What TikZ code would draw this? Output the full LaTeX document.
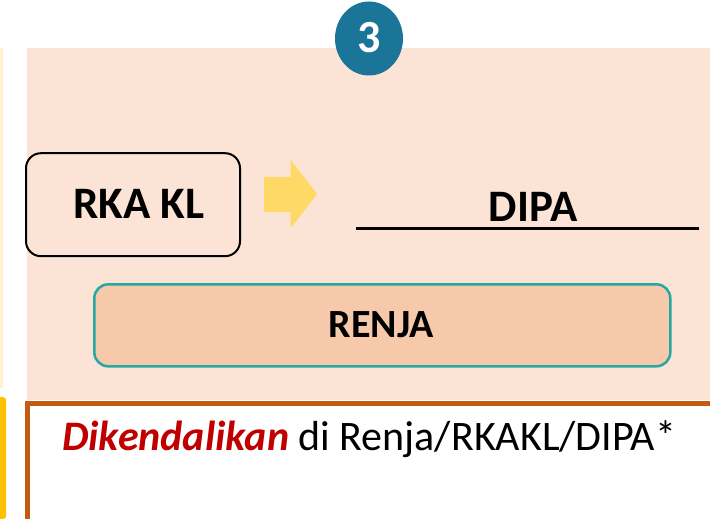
\documentclass[tikz,border=0pt]{standalone}
\usepackage{fontspec}
\usetikzlibrary{shapes.geometric}
\setmainfont{Carlito}
\definecolor{peach}{HTML}{FBE4D6}
\definecolor{renjafill}{HTML}{F6C9AB}
\definecolor{teal}{RGB}{38,168,162}
\definecolor{circblue}{RGB}{26,117,152}
\definecolor{arrowyel}{HTML}{FFD966}
\definecolor{paleyel}{HTML}{FFF2CC}
\definecolor{gold}{HTML}{FFC000}
\definecolor{rust}{HTML}{C55A11}
\definecolor{darkred}{HTML}{C00000}
\tikzset{
  rkabox/.style={draw=black, line width=2pt, rounded corners=15pt, fill=peach, minimum width=214pt, minimum height=103pt, inner sep=0pt},
  renjabox/.style={draw=teal, line width=2.5pt, rounded corners=14pt, fill=renjafill, minimum width=576pt, minimum height=82pt, inner sep=0pt},
  bigtxt/.style={font=\fontsize{45}{54}\selectfont\bfseries, inner sep=0pt},
}
\begin{document}
\begin{tikzpicture}[x=1pt,y=-1pt]
\useasboundingbox (0,0) rectangle (710,519);
% side strips
\fill[paleyel] (0,48) rectangle (3,388);
\fill[gold,rounded corners=3pt] (-5,519) -- (-5,397) -- (6,397) -- (6,519) -- cycle;
% peach panel
\fill[peach] (27,48) rectangle (710,400);
% number circle
\node[ellipse, fill=circblue, minimum width=68pt, minimum height=74pt, inner sep=0pt] (circ) at (369,38.5) {};
\node[anchor=base, inner sep=0pt, text=white, font=\fontsize{46}{54}\selectfont\bfseries] (num) at (369,52.3) {3};
% RKA KL box
\node[rkabox] (rka) at (133,204.7) {};
\node[bigtxt, anchor=base] (rkatxt) at (139,218.3) {RKA KL};
% arrow
\fill[arrowyel] (264,177) -- (290.7,177) -- (290.7,160) -- (317.3,194) -- (290.7,228) -- (290.7,212) -- (264,212) -- cycle;
% DIPA
\node[bigtxt, anchor=base] (dipa) at (533,221.7) {DIPA};
\coordinate (ulA) at (356,228.7);
\coordinate (ulB) at (699,228.7);
\draw[line width=3pt] (ulA) -- (ulB);
% RENJA box
\node[renjabox] (renja) at (382.3,325.3) {};
\node[anchor=base, inner sep=0pt, font=\fontsize{40}{48}\selectfont\bfseries] (renjatxt) at (381.4,337.3) {RENJA};
% bottom box
\draw[rust, line width=5.5pt, fill=white] (27.5,403.5) rectangle (730,540);
\node[anchor=base west, inner sep=0pt, font=\fontsize{42}{50}\selectfont] (ctrl) at (62,450) {\textcolor{darkred}{\textbf{\textit{Dikendalikan}}} di Renja/RKAKL/DIPA*};
\end{tikzpicture}
\end{document}
